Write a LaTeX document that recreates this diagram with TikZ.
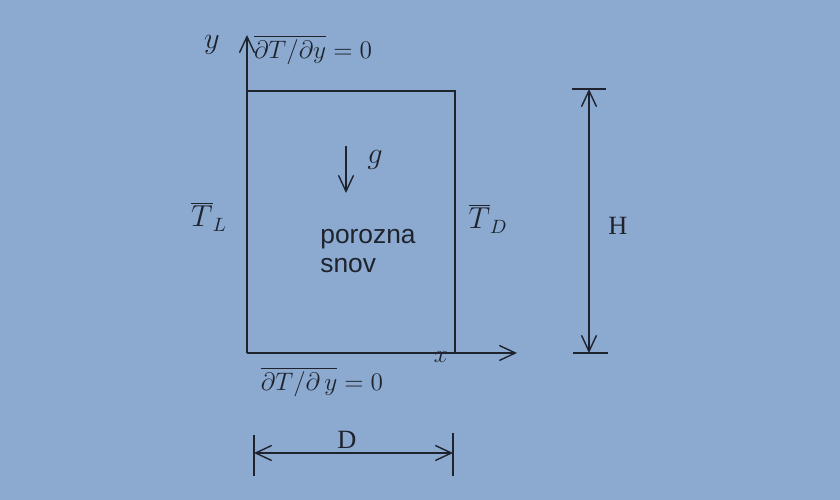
\documentclass[tikz,border=0pt]{standalone}
\usepackage{fontspec}
\setmainfont{Liberation Serif}
\newfontfamily\labelsans{Liberation Sans}
\usetikzlibrary{arrows.meta}
\definecolor{bgcolor}{RGB}{140,170,208}
\definecolor{inkcolor}{RGB}{30,35,45}

\begin{document}
\begin{tikzpicture}[x=0.02cm, y=-0.02cm,
    line/.style={draw=inkcolor, line width=0.8pt},
    arr/.style={line, -{Straight Barb[length=3.2mm,width=3mm]}},
    dimline/.style={line, {Straight Barb[length=3.2mm,width=3mm]}-{Straight Barb[length=3.2mm,width=3mm]}},
    lbl/.style={text=inkcolor, font=\fontsize{14}{17}\selectfont, inner sep=0pt}
  ]
  \fill[bgcolor] (0,0) rectangle (840,500);
  \useasboundingbox (0,0) rectangle (840,500);
  % porous cavity and axes
  \coordinate (O) at (247,353);
  \coordinate (tl) at (247,91);
  \coordinate (tr) at (455,91);
  \coordinate (br) at (455,353);
  \coordinate (yend) at (247,35);
  \coordinate (xend) at (517,353);
  \draw[line] (O) -- (tl) -- (tr) -- (br);
  \draw[arr] (O) -- (yend);
  \draw[arr] (O) -- (xend);
  \node[lbl, font=\fontsize{18}{20}\selectfont] (ylab) at (212,45) {$y$};
  \node[lbl] (xlab) at (441,357) {$x$};
  % gravity
  \coordinate (gtop) at (346,146);
  \coordinate (gbot) at (346,193);
  \draw[arr] (gtop) -- (gbot);
  \node[lbl, font=\fontsize{17}{20}\selectfont] (glab) at (375,160) {$g$};
  % boundary conditions
  \node[lbl] (top) at (313,50) {$\overline{\partial T/\partial y}=0$};
  \node[lbl] (bot) at (322,382) {$\overline{\partial T/\partial\,y}=0$};
  \node[lbl, font=\fontsize{16}{18}\selectfont] (TL) at (209,217) {$\overline{T}_L$};
  \node[lbl, font=\fontsize{16}{18}\selectfont] (TD) at (488,219) {$\overline{T}_D$};
  \node[lbl, font=\labelsans\fontsize{15}{16.5}\selectfont, align=left, anchor=west] (medium) at (320,251) {porozna\\snov};
  % dimension H
  \coordinate (htop) at (589,89);
  \coordinate (hbot) at (589,353);
  \draw[line] (572,89) -- (606,89);
  \draw[line] (573,353) -- (608,353);
  \draw[dimline] (htop) -- (hbot);
  \node[lbl, font=\fontsize{15}{17}\selectfont] (H) at (618,226) {H};
  % dimension D
  \coordinate (dleft) at (254,453);
  \coordinate (dright) at (453,453);
  \draw[line] (254,435) -- (254,476);
  \draw[line] (453,433) -- (453,476);
  \draw[dimline] (dleft) -- (dright);
  \node[lbl, font=\fontsize{15}{17}\selectfont] (D) at (347,440) {D};
\end{tikzpicture}
\end{document}
